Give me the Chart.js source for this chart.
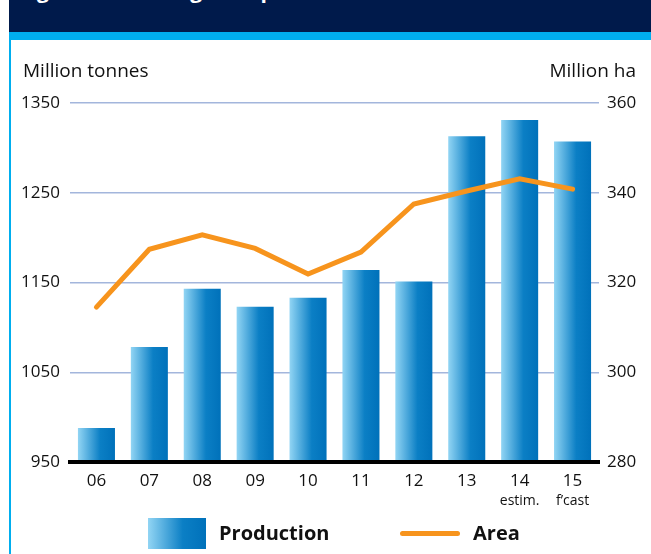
<!DOCTYPE html>
<html>
<head>
<meta charset="utf-8">
<script src="https://cdn.jsdelivr.net/npm/chart.js@4"></script>
<style>
  html, body { margin: 0; padding: 0; background: #fff; }
  body { width: 651px; height: 554px; position: relative; overflow: hidden; font-family: "Open Sans", sans-serif; color: #111; }
  .banner { position: absolute; left: 9px; top: 0; width: 642px; height: 32px; background: #001a4b; overflow: hidden; }
  .banner span { position: absolute; left: 10px; top: -20px; font-size: 21px; line-height: 21px; font-weight: bold; color: #fff; white-space: nowrap; }
  .strip { position: absolute; left: 9px; top: 32px; width: 642px; height: 8px; background: #00aeef; }
  .edge { position: absolute; left: 9px; top: 40px; width: 2px; height: 514px; background: #00aeef; }
  #chart { position: absolute; left: 0; top: 0; }
  .unit { position: absolute; top: 57px; font-size: 19px; line-height: 26px; white-space: nowrap; }
  .swatch { position: absolute; left: 148px; top: 518px; width: 58px; height: 31px; background: linear-gradient(to right, #92d5f4 0%, #0b7fc5 60%, #0071ba 100%); }
  .lineKey { position: absolute; left: 400px; top: 531px; width: 60px; height: 5px; border-radius: 3px; background: #f7941d; }
  .legText { position: absolute; top: 519px; font-size: 20px; font-weight: bold; line-height: 28px; }
</style>
</head>
<body>
<div class="banner"><span>Figure 1: Coarse grains production and area</span></div>
<div class="strip"></div>
<div class="edge"></div>
<canvas id="chart" width="651" height="554"></canvas>
<div class="unit" style="left:23px">Million tonnes</div>
<div class="unit" style="right:15px">Million ha</div>
<div class="swatch"></div>
<div class="legText" style="left:219px">Production</div>
<div class="lineKey"></div>
<div class="legText" style="left:473px">Area</div>
<script>
// Seasons and notes under the year labels
const years = ['06', '07', '08', '09', '10', '11', '12', '13', '14', '15'];
const notes = ['', '', '', '', '', '', '', '', 'estim.', 'f\u2019cast'];

// Production (million tonnes, left axis) and area (million ha, right axis)
const production = [988, 1078, 1143, 1123, 1133, 1164, 1151, 1313, 1331, 1307];
const area = [314.5, 327.4, 330.6, 327.6, 321.9, 326.8, 337.5, 340.4, 343.1, 340.8];

const tickFont = { family: 'Open Sans', size: 17 };

// Horizontal gradient for each bar, built from the bar's own x position
function barFill(c) {
    const chart = c.chart;
    const xs = chart.scales.x;
    if (c.type !== 'data' || !xs || !chart.chartArea) return '#1284c8';
    const cx = xs.getPixelForValue(c.dataIndex);
    const half = xs.width / years.length * 0.7 / 2;
    const g = chart.ctx.createLinearGradient(cx - half, 0, cx + half, 0);
    g.addColorStop(0, '#92d5f4');
    g.addColorStop(0.6, '#0b7fc5');
    g.addColorStop(1, '#0071ba');
    return g;
}

new Chart(document.getElementById('chart').getContext('2d'), {
    type: 'bar',
    data: {
        labels: years,
        datasets: [{
            type: 'line',
            label: 'Area',
            data: area,
            yAxisID: 'y1',
            borderColor: '#f7941d',
            borderWidth: 5,
            borderCapStyle: 'round',
            borderJoinStyle: 'miter',
            pointRadius: 0,
            tension: 0,
            order: 0
        }, {
            label: 'Production',
            data: production,
            yAxisID: 'y',
            backgroundColor: barFill,
            barPercentage: 0.7,
            categoryPercentage: 1,
            order: 1
        }]
    },
    options: {
        responsive: false,
        animation: false,
        layout: { padding: { top: 103, left: 0, right: 0, bottom: 40 } },
        plugins: { legend: { display: false }, tooltip: { enabled: false } },
        scales: {
            x: {
                offset: true,
                grid: { display: false },
                border: { display: true, color: '#000', width: 4, z: 1 },
                ticks: { font: tickFont, color: '#111', padding: 1, maxRotation: 0 },
                afterFit: s => { s.height = 26; }
            },
            x2: {
                type: 'category',
                labels: notes,
                position: 'bottom',
                offset: true,
                grid: { display: false },
                border: { display: false },
                ticks: { font: { family: 'Open Sans', size: 14 }, color: '#111', padding: -3, maxRotation: 0, autoSkip: false },
                afterFit: s => { s.height = 26; }
            },
            y: {
                position: 'left',
                min: 950,
                max: 1350,
                ticks: { stepSize: 100, font: tickFont, color: '#111', padding: 10, callback: v => String(v) },
                grid: { color: '#a3b6dc', lineWidth: 1.5, drawTicks: false },
                border: { display: false },
                afterFit: s => { s.width = 70; }
            },
            y1: {
                position: 'right',
                min: 280,
                max: 360,
                ticks: { stepSize: 20, font: tickFont, color: '#111', padding: 8, callback: v => String(v) },
                grid: { display: false, drawTicks: false },
                border: { display: false },
                afterFit: s => { s.width = 52; }
            }
        }
    }
});
</script>
</body>
</html>
